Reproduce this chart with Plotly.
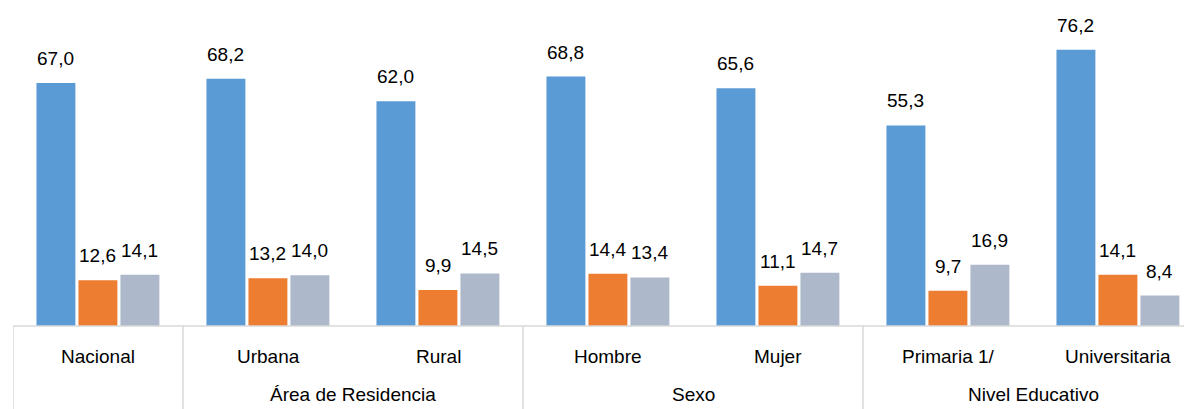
import plotly.graph_objects as go

categorias = ["Nacional", "Urbana", "Rural", "Hombre", "Mujer", "Primaria 1/", "Universitaria"]
grupos = ["", "Área de Residencia", "Sexo", "Nivel Educativo"]
grupo_centros = [0, 1.5, 3.5, 5.5]
divisores = [-0.5, 0.5, 2.5, 4.5]

serie_1 = [67.0, 68.2, 62.0, 68.8, 65.6, 55.3, 76.2]
serie_2 = [12.6, 13.2, 9.9, 14.4, 11.1, 9.7, 14.1]
serie_3 = [14.1, 14.0, 14.5, 13.4, 14.7, 16.9, 8.4]

colores = ["#5b9bd5", "#ed7d31", "#adb9ca"]
x = list(range(len(categorias)))

# bar geometry (in category units)
ancho = 0.229
offsets = [-0.362, -0.115, 0.132]

fig = go.Figure()
for vals, col, off in zip([serie_1, serie_2, serie_3], colores, offsets):
    fig.add_trace(go.Bar(x=x, y=vals, marker_color=col, marker_line_width=0,
                         width=ancho, offset=off))
    for xi, v in zip(x, vals):
        fig.add_annotation(x=xi + off + ancho / 2, y=v, xref="x", yref="y",
                           text=f"{v:.1f}".replace(".", ","), showarrow=False,
                           yanchor="bottom", yshift=12, font=dict(size=19))

# the page body adds an 8px offset, so the figure is sized to the visible area
W, H = 1184, 401
plot_h = 318
fig.update_layout(
    width=W, height=H,
    margin=dict(l=5, r=0, t=0, b=H - plot_h, autoexpand=False),
    paper_bgcolor="white", plot_bgcolor="white",
    barmode="overlay",
    showlegend=False,
    font=dict(family="Liberation Sans, Arial", size=19, color="#000000"),
)
fig.update_xaxes(range=[-0.5, -0.5 + 1179 / 170], showticklabels=False, showgrid=False,
                 zeroline=False, showline=False)
fig.update_yaxes(range=[0, 87.7], visible=False)

h = (H - plot_h) / plot_h
# axis line
fig.add_shape(type="line", xref="paper", yref="paper", x0=0, x1=1, y0=0, y1=0,
              line=dict(color="#d9d9d9", width=1.5))
for d in divisores:
    fig.add_shape(type="line", xref="x", yref="paper", x0=d, x1=d, y0=0, y1=-h,
                  line=dict(color="#d9d9d9", width=1.5))

for i, c in enumerate(categorias):
    fig.add_annotation(x=i, y=-30 / plot_h, xref="x", yref="paper", text=c,
                       showarrow=False, yanchor="middle", font=dict(size=19))
for g, gc in zip(grupos, grupo_centros):
    if g:
        fig.add_annotation(x=gc, y=-68 / plot_h, xref="x", yref="paper", text=g,
                           showarrow=False, yanchor="middle", font=dict(size=19))

fig.write_html("out.html")
